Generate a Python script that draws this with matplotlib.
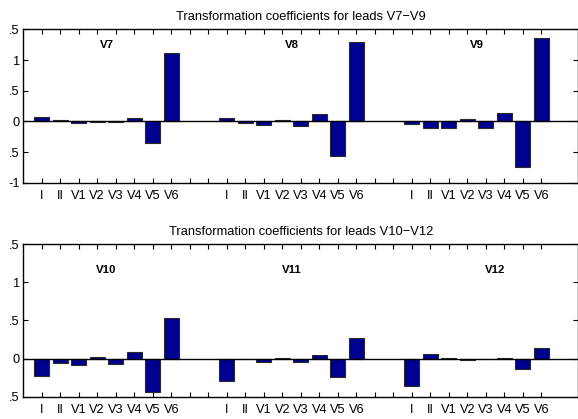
import numpy as np
import matplotlib
matplotlib.use('Agg')
import matplotlib.pyplot as plt

plt.rcParams['font.family'] = ['Liberation Sans', 'DejaVu Sans']

# Source leads used in every group
leads = ['I', 'II', 'V1', 'V2', 'V3', 'V4', 'V5', 'V6']

# Coefficients for the derived leads V7-V9
v7 = [0.07, 0.02, -0.03, -0.01, -0.015, 0.05, -0.35, 1.11]
v8 = [0.05, -0.03, -0.065, 0.02, -0.075, 0.12, -0.57, 1.29]
v9 = [-0.04, -0.10, -0.10, 0.04, -0.10, 0.14, -0.74, 1.36]

# Coefficients for the derived leads V10-V12
v10 = [-0.23, -0.06, -0.09, 0.015, -0.07, 0.08, -0.435, 0.535]
v11 = [-0.30, -0.005, -0.04, 0.01, -0.05, 0.04, -0.24, 0.27]
v12 = [-0.36, 0.06, 0.005, -0.015, -0.01, 0.005, -0.14, 0.14]

top_names = ['V7', 'V8', 'V9']
bottom_names = ['V10', 'V11', 'V12']
top_title = 'Transformation coefficients for leads V7\u2212V9'
bottom_title = 'Transformation coefficients for leads V10\u2212V12'

top_yticks = [-1, -0.5, 0, 0.5, 1, 1.5]
top_yticklabels = ['-1', '.5', '0', '.5', '1', '.5']
bottom_yticks = [-0.5, 0, 0.5, 1, 1.5]
bottom_yticklabels = ['.5', '0', '.5', '1', '.5']

bar_face = '#00008e'
bar_edge = '#2a2a2a'


def draw_panel(ax, groups, names, title, ylim, yticks, yticklabels, name_y, name_x):
    ticks = np.arange(1, 29)
    ticklabels = []
    for g, vals in enumerate(groups):
        x = np.arange(1, 9) + 10 * g
        ax.bar(x, vals, width=0.8, color=bar_face, edgecolor=bar_edge,
               linewidth=0.8, zorder=2)
        ax.text(name_x[g], name_y, names[g], ha='center', va='center',
                fontsize=8.2, fontweight='bold')
    for t in ticks:
        k = (t - 1) % 10
        ticklabels.append(leads[k] if k < 8 else '')
    ax.axhline(0, color='black', linewidth=1.0, zorder=3)
    ax.set_xlim(0, 30)
    ax.set_ylim(*ylim)
    ax.set_xticks(ticks)
    ax.set_xticklabels(ticklabels)
    ax.set_yticks(yticks)
    ax.set_yticklabels(yticklabels)
    ax.tick_params(direction='in', top=True, right=True, length=3.6,
                   width=0.8, labelsize=9.2, pad=2.5)
    ax.tick_params(axis='x', pad=5.0)
    for sp in ax.spines.values():
        sp.set_linewidth(1.0)
    ax.set_title(title, fontsize=9.3, pad=6.5)


fig = plt.figure(figsize=(5.78, 4.19), dpi=100)
ax1 = fig.add_axes([0.0401, 0.564, 0.9605, 0.3656])
ax2 = fig.add_axes([0.0401, 0.0532, 0.9605, 0.3644])

draw_panel(ax1, [v7, v8, v9], top_names, top_title, (-1, 1.5),
           top_yticks, top_yticklabels, 1.245, [4.5, 14.5, 24.5])
draw_panel(ax2, [v10, v11, v12], bottom_names, bottom_title, (-0.5, 1.5),
           bottom_yticks, bottom_yticklabels, 1.16, [4.5, 14.5, 25.5])

fig.savefig('out.png', dpi=100, facecolor='white')
